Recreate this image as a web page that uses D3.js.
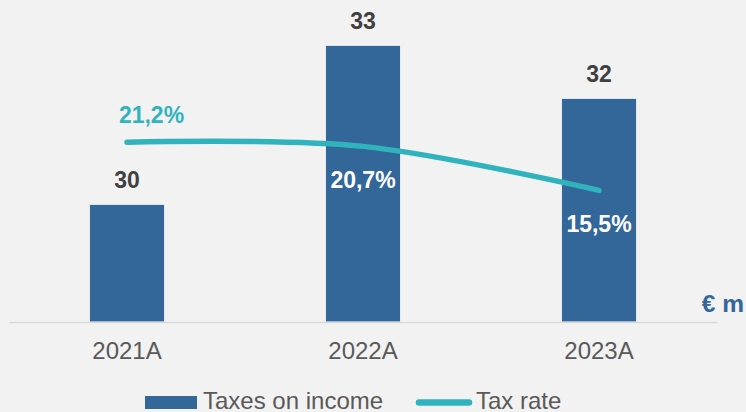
<!DOCTYPE html>
<html>
<head>
<meta charset="utf-8">
<script src="https://cdn.jsdelivr.net/npm/d3@7"></script>
<style>
  html, body { margin: 0; padding: 0; background: #f2f2f2; }
  svg { display: block; font-family: "Liberation Sans", Arial, sans-serif; }
</style>
</head>
<body>
<svg id="chart" width="746" height="412"></svg>
<script>
// Taxes on income (€ m) and effective tax rate (%)
const years = ["2021A", "2022A", "2023A"];
const taxes = [30, 33, 32];
const taxRate = [21.2, 20.7, 15.5];
const rateLabels = ["21,2%", "20,7%", "15,5%"];
const legendLabels = ["Taxes on income", "Tax rate"];
const unitLabel = "€ m";

const barColor = "#336699";
const lineColor = "#31b3be";
const W = 746, H = 412;
const baseY = 321.5;

const svg = d3.select("#chart");
svg.append("rect").attr("width", W).attr("height", H).attr("fill", "#f2f2f2");

const x = d3.scaleBand()
  .domain(years)
  .range([9, 717])
  .paddingInner(0.686)
  .paddingOuter(0.343);

// primary axis (bars) does not start at zero
const yBar = d3.scaleLinear().domain([27.8, 33.866]).range([baseY, 0]);
// secondary axis (line)
const yRate = d3.scaleLinear().domain([0, 38]).range([baseY, 0]);

const data = years.map((y, i) => ({ year: y, tax: taxes[i], rate: taxRate[i], rateLabel: rateLabels[i] }));

// bars
svg.append("g").selectAll("rect").data(data).join("rect")
  .attr("x", d => x(d.year))
  .attr("width", x.bandwidth())
  .attr("y", d => yBar(d.tax))
  .attr("height", d => baseY - yBar(d.tax))
  .attr("fill", barColor);

// category axis
const axis = svg.append("g")
  .attr("transform", `translate(0,${322})`)
  .call(d3.axisBottom(x).tickSize(0).tickSizeOuter(0));
axis.select(".domain").attr("stroke", "#d9d9d9").attr("stroke-width", 1.5);
axis.selectAll(".tick text")
  .attr("y", 37).attr("dy", 0)
  .attr("font-size", 24)
  .attr("font-family", "Liberation Sans, Arial, sans-serif")
  .attr("fill", "#595959");

// bar value labels
svg.append("g").selectAll("text").data(data).join("text")
  .attr("x", d => x(d.year) + x.bandwidth() / 2)
  .attr("y", d => yBar(d.tax) - 17)
  .attr("text-anchor", "middle")
  .attr("font-size", 23)
  .attr("font-weight", "bold")
  .attr("fill", "#404040")
  .text(d => d.tax);

// tax rate line
const cx = d => x(d.year) + x.bandwidth() / 2;
const line = d3.line()
  .x(cx)
  .y(d => yRate(d.rate))
  .curve(d3.curveCardinal.tension(0));
svg.append("path")
  .datum(data)
  .attr("d", line)
  .attr("fill", "none")
  .attr("stroke", lineColor)
  .attr("stroke-width", 5.5)
  .attr("stroke-linecap", "round");

// tax rate labels: first above the line, others below on the bars
svg.append("g").selectAll("text").data(data).join("text")
  .attr("x", (d, i) => cx(d) + (i === 0 ? 24.5 : 0))
  .attr("y", (d, i) => yRate(d.rate) + (i === 0 ? -19.5 : 42))
  .attr("text-anchor", "middle")
  .attr("font-size", 23)
  .attr("font-weight", "bold")
  .attr("fill", (d, i) => i === 0 ? lineColor : "#ffffff")
  .text(d => d.rateLabel);

// unit label
svg.append("text")
  .attr("x", 744).attr("y", 312)
  .attr("text-anchor", "end")
  .attr("font-size", 24.5)
  .attr("font-weight", "bold")
  .attr("fill", barColor)
  .text(unitLabel);

// legend
const lg = svg.append("g");
lg.append("rect").attr("x", 145).attr("y", 396).attr("width", 52).attr("height", 13).attr("fill", barColor);
lg.append("text").attr("x", 203).attr("y", 409).attr("font-size", 24).attr("fill", "#595959").text(legendLabels[0]);
lg.append("line").attr("x1", 419).attr("x2", 469).attr("y1", 402.5).attr("y2", 402.5)
  .attr("stroke", lineColor).attr("stroke-width", 6.5).attr("stroke-linecap", "round");
lg.append("text").attr("x", 476).attr("y", 409).attr("font-size", 24).attr("fill", "#595959").text(legendLabels[1]);
</script>
</body>
</html>
